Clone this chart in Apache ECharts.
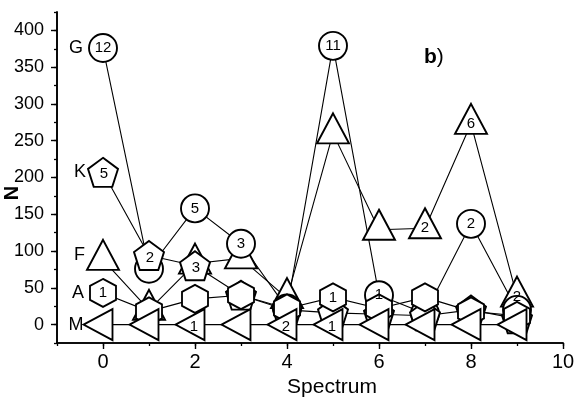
<!DOCTYPE html>
<html>
<head>
<meta charset="utf-8">
<script src="https://cdn.jsdelivr.net/npm/echarts@6/dist/echarts.min.js"></script>
<style>
  html, body { margin: 0; padding: 0; background: #fff; }
  #chart { width: 575px; height: 397px; }
</style>
</head>
<body>
<div id="chart"></div>
<script>
// Spectrum index on the x axis
const spectrum = [0, 1, 2, 3, 4, 5, 6, 7, 8, 9];

// Counts N per spectral class
const gVals = [376, 76, 158, 110, 22, 379, 40, 15, 137, 20];
const kVals = [207, 94, 80, 40, 20, 16, 14, 12, 20, 8];
const fVals = [88, 20, 83, 90, 36, 260, 129, 131, 273, 38];
const aVals = [43, 18, 35, 40, 22, 37, 22, 37, 18, 12];
const mVals = [0, 0, 0, 0, 0, 0, 0, 0, 0, 0];

// Numbers printed inside the markers
const gTags = ['12', '', '5', '3', '', '11', '1', '', '2', ''];
const kTags = ['5', '2', '3', '', '', '', '', '', '', ''];
const fTags = ['', '', '', '', '', '', '', '2', '6', '2'];
const aTags = ['1', '', '', '', '', '1', '', '', '', ''];
const mTags = ['', '', '1', '', '2', '1', '', '', '', ''];

// Tick values
const xMajorTicks = [0, 2, 4, 6, 8, 10];
const yMajorTicks = [0, 50, 100, 150, 200, 250, 300, 350, 400];

const FONT = '"Liberation Sans", Arial, Helvetica, sans-serif';

const PENTAGON = 'path://M0,-1 L0.951,-0.309 L0.588,0.809 L-0.588,0.809 L-0.951,-0.309 Z';
const HEXAGON = 'path://M0,-1 L0.866,-0.5 L0.866,0.5 L0,1 L-0.866,0.5 L-0.866,-0.5 Z';
const LEFT_TRI = 'path://M0,5 L10,0 L10,10 Z';

function makeSeries(name, vals, tags, symbol, size, offset, labelOffset, nameGap) {
  return {
    name: name,
    type: 'line',
    xAxisIndex: 0,
    yAxisIndex: 0,
    data: spectrum.map((x, i) => [x, vals[i]]),
    symbol: symbol,
    symbolSize: size,
    symbolOffset: offset,
    showAllSymbol: true,
    lineStyle: { color: '#000', width: 1.1 },
    itemStyle: { color: '#fff', borderColor: '#000', borderWidth: 1.9 },
    label: {
      show: true,
      position: 'inside',
      offset: labelOffset,
      formatter: p => tags[p.dataIndex],
      fontFamily: FONT,
      fontSize: 15,
      color: '#000'
    },
    emphasis: { disabled: true },
    animation: false,
    z: 2,
    markPoint: {
      symbol: 'rect',
      symbolSize: size,
      symbolOffset: offset,
      itemStyle: { color: 'rgba(0,0,0,0)' },
      silent: true,
      label: {
        show: true,
        position: 'left',
        distance: nameGap,
        formatter: name,
        fontFamily: FONT,
        fontSize: 18,
        color: '#000'
      },
      data: [{ coord: [spectrum[0], vals[0]] }]
    }
  };
}

const chart = echarts.init(document.getElementById('chart'));

const axisLineStyle = { color: '#000', width: 1.6 };

chart.setOption({
  backgroundColor: '#fff',
  animation: false,
  grid: { left: 57, right: 12, top: 12, bottom: 54, containLabel: false, outerBoundsMode: 'none' },
  xAxis: [
    {
      type: 'value', min: -1, max: 10, interval: 1, position: 'bottom',
      axisLine: { show: true, onZero: false, lineStyle: axisLineStyle },
      axisTick: { show: true, inside: false, length: 3, lineStyle: { color: '#000', width: 1.3 } },
      axisLabel: { show: false },
      splitLine: { show: false }
    },
    {
      type: 'value', min: -1, max: 10, position: 'bottom',
      axisLine: { show: true, onZero: false, lineStyle: axisLineStyle },
      axisTick: { show: true, inside: false, length: 6, customValues: xMajorTicks, lineStyle: { color: '#000', width: 1.4 } },
      axisLabel: { show: true, customValues: xMajorTicks, margin: 9, fontFamily: FONT, fontSize: 20, color: '#000' },
      splitLine: { show: false },
      name: 'Spectrum',
      nameLocation: 'middle',
      nameGap: 31,
      nameTextStyle: { fontFamily: FONT, fontSize: 21, color: '#000', padding: [0, 0, 0, 44] }
    }
  ],
  yAxis: [
    {
      type: 'value', min: -25, max: 425, interval: 25, position: 'left',
      axisLine: { show: true, onZero: false, lineStyle: axisLineStyle },
      axisTick: { show: true, inside: false, length: 3, lineStyle: { color: '#000', width: 1.3 } },
      axisLabel: { show: false },
      splitLine: { show: false }
    },
    {
      type: 'value', min: -25, max: 425, position: 'left',
      axisLine: { show: true, onZero: false, lineStyle: axisLineStyle },
      axisTick: { show: true, inside: false, length: 6, customValues: yMajorTicks, lineStyle: { color: '#000', width: 1.4 } },
      axisLabel: { show: true, customValues: yMajorTicks, margin: 13, fontFamily: FONT, fontSize: 18, color: '#000' },
      splitLine: { show: false }
    }
  ],
  graphic: [
    {
      // y-axis title, rotated to read bottom-to-top
      type: 'text',
      x: 12,
      y: 193,
      rotation: Math.PI / 2,
      style: {
        text: 'N',
        fontFamily: FONT,
        fontSize: 20,
        fontWeight: 'bold',
        fill: '#000',
        align: 'center',
        verticalAlign: 'middle'
      }
    },
    {
      type: 'text',
      left: 424,
      top: 47,
      style: {
        text: '{b|b}{p|)}',
        rich: {
          b: { fontFamily: FONT, fontSize: 21, fontWeight: 'bold', fill: '#000' },
          p: { fontFamily: FONT, fontSize: 21, fill: '#000' }
        }
      }
    }
  ],
  series: [
    makeSeries('F', fVals, fTags, 'triangle', [32, 30], [0, -5], [0, 5], 2),
    makeSeries('G', gVals, gTags, 'circle', 28, [0, 0], [0, 0], 6),
    makeSeries('K', kVals, kTags, PENTAGON, [30, 29], [0, 0], [1, 2], 2),
    makeSeries('A', aVals, aTags, HEXAGON, [26, 28], [0, 0], [0, 0], 6),
    makeSeries('M', mVals, mTags, LEFT_TRI, [29, 31], [-5, 0], [4, 2], 0)
  ]
});
</script>
</body>
</html>
